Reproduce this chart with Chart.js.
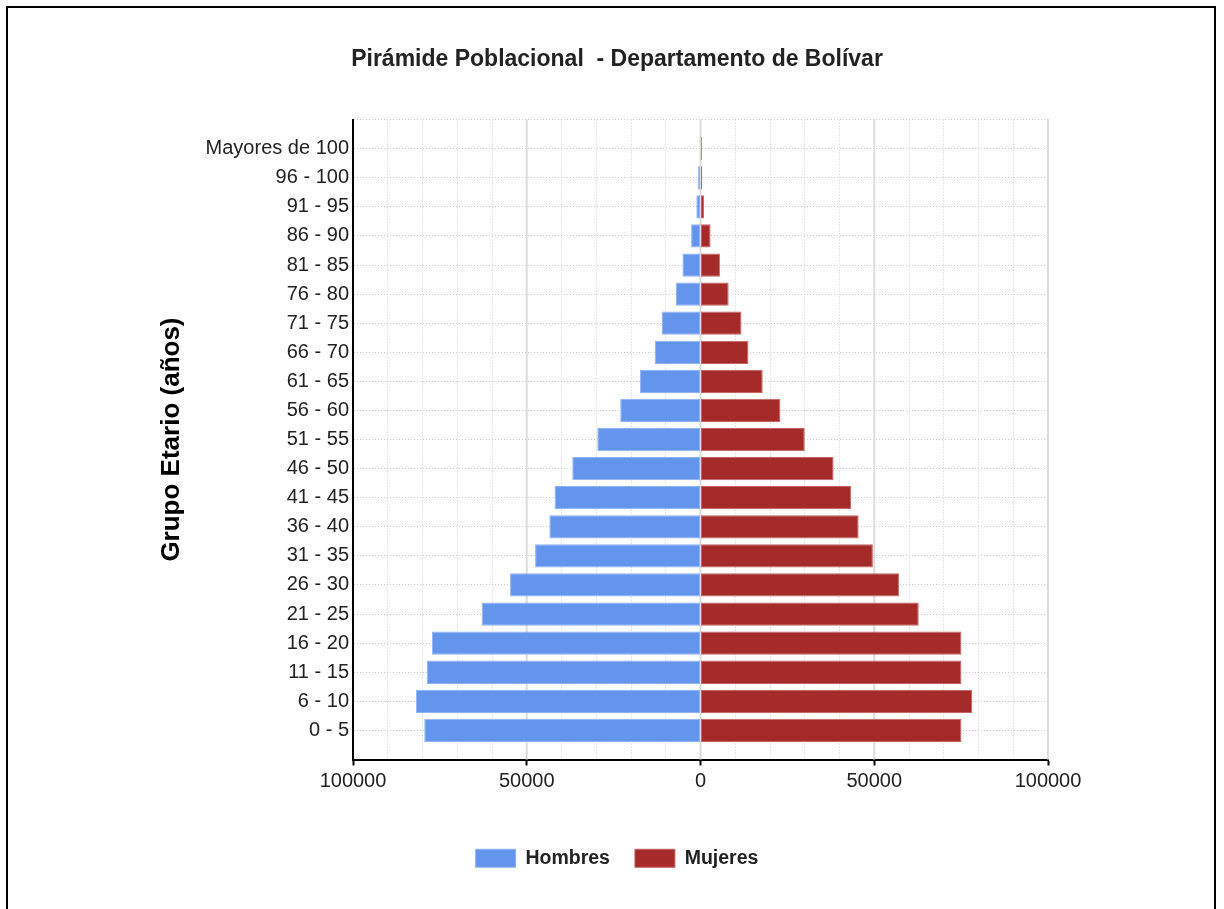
<!DOCTYPE html>
<html>
<head>
<meta charset="utf-8">
<script src="https://cdn.jsdelivr.net/npm/chart.js@4/dist/chart.umd.min.js"></script>
<style>
  body { margin: 0; background: #fff; overflow: hidden; }
  #frame { position: absolute; left: 6px; top: 6px; width: 1210px; height: 1000px; border: 2px solid #000; box-sizing: border-box; }
  #pyramid { position: absolute; left: 0; top: 0; }
</style>
</head>
<body>
<div id="frame"></div>
<canvas id="pyramid" width="1224" height="909"></canvas>
<script>
// age groups, bottom to top
const ageGroups = ['0 - 5', '6 - 10', '11 - 15', '16 - 20', '21 - 25', '26 - 30', '31 - 35',
  '36 - 40', '41 - 45', '46 - 50', '51 - 55', '56 - 60', '61 - 65', '66 - 70', '71 - 75',
  '76 - 80', '81 - 85', '86 - 90', '91 - 95', '96 - 100', 'Mayores de 100'];
const hombres = [79500, 81900, 78800, 77300, 63000, 54800, 47600, 43500, 42000, 36900, 29700,
  23100, 17400, 13200, 11200, 7100, 5200, 2700, 1200, 700, 150];
const mujeres = [75100, 78200, 75100, 75100, 62800, 57200, 49600, 45500, 43400, 38300, 30000,
  23000, 17900, 13800, 11800, 8100, 5600, 2900, 1000, 450, 400];
const xMajorTicks = [-100000, -50000, 0, 50000, 100000];

const font = "'Liberation Sans', Arial, sans-serif";

// empty rows at both ends give the blank band above and below the bars
const labels = [''].concat(ageGroups, ['']);
const pad = arr => [null].concat(arr, [null]);

// solid light lines at every labelled tick
const majorLines = {
  id: 'majorLines',
  beforeDatasetsDraw(chart) {
    const {ctx, chartArea, scales} = chart;
    ctx.save();
    ctx.strokeStyle = '#dcdcdc';
    ctx.lineWidth = 2;
    xMajorTicks.forEach(v => {
      if (v === scales.x.min) return;
      const x = scales.x.getPixelForValue(v);
      ctx.beginPath();
      ctx.moveTo(x, chartArea.top);
      ctx.lineTo(x, chartArea.bottom);
      ctx.stroke();
    });
    ctx.restore();
  }
};

new Chart(document.getElementById('pyramid'), {
  type: 'bar',
  data: {
    labels: labels,
    datasets: [{
      label: 'Hombres',
      data: pad(hombres.map(v => -v)),
      backgroundColor: '#6495ED',
      borderColor: '#8fb2f2',
      borderWidth: 1,
      borderSkipped: false
    }, {
      label: 'Mujeres',
      data: pad(mujeres),
      backgroundColor: '#A52A2A',
      borderColor: '#c46464',
      borderWidth: 1,
      borderSkipped: false
    }]
  },
  options: {
    indexAxis: 'y',
    responsive: false,
    animation: false,
    categoryPercentage: 1,
    barPercentage: 0.8,
    layout: { padding: { left: 186, right: 176, top: 30, bottom: 31 } },
    scales: {
      x: {
        stacked: true,
        min: -100000,
        max: 100000,
        afterFit: scale => { scale.height = 64; },
        ticks: {
          stepSize: 10000,
          autoSkip: false,
          maxRotation: 0,
          padding: 4,
          color: '#222',
          font: { family: font, size: 20 },
          callback: v => (v % 50000 === 0 ? String(Math.abs(v)) : '')
        },
        grid: {
          color: '#cfcfcf',
          lineWidth: 1,
          tickLength: 6,
          tickWidth: 2,
          tickColor: ctx => (ctx.tick && ctx.tick.value % 50000 === 0 ? '#000' : 'rgba(0,0,0,0)')
        },
        border: { display: true, color: '#000', width: 2, dash: [1, 2] }
      },
      y: {
        stacked: true,
        reverse: true,
        offset: false,
        afterFit: scale => { scale.width = 167; },
        ticks: {
          autoSkip: false,
          padding: 4,
          color: '#222',
          font: { family: font, size: 20 }
        },
        grid: { color: '#cfcfcf', offset: false, drawTicks: false },
        border: { display: true, color: '#000', width: 2, dash: [1, 2] },
        title: {
          display: true,
          text: 'Grupo Etario (años)',
          color: '#000',
          padding: { top: -29.6, bottom: 0 },
          font: { family: font, size: 26, weight: 'bold' }
        }
      }
    },
    plugins: {
      title: {
        display: true,
        text: 'Pirámide Poblacional  - Departamento de Bolívar',
        color: '#222',
        padding: { top: 16, bottom: 46 },
        font: { family: font, size: 23, weight: 'bold' }
      },
      legend: {
        position: 'bottom',
        labels: {
          boxWidth: 40,
          boxHeight: 18,
          padding: 25,
          color: '#222',
          font: { family: font, size: 19.5, weight: 'bold' }
        }
      },
      tooltip: { enabled: false }
    }
  },
  plugins: [majorLines]
});
</script>
</body>
</html>
